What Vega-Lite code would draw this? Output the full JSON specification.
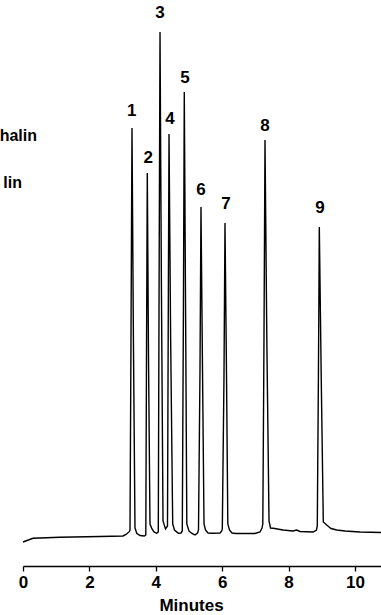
{
  "$schema": "https://vega.github.io/schema/vega-lite/v6.json",
  "width": 358,
  "height": 566,
  "autosize": {"type": "none"},
  "padding": {"left": 23, "top": 0, "right": 0, "bottom": 49},
  "config": {"view": {"stroke": null}, "font": "Liberation Sans"},
  "datasets": {
    "trace": [
      {"t": 0.0, "v": 24},
      {"t": 0.301, "v": 27.7},
      {"t": 1.114, "v": 28.7},
      {"t": 2.319, "v": 29.5},
      {"t": 3.012, "v": 30},
      {"t": 3.102, "v": 31.5},
      {"t": 3.202, "v": 34.3},
      {"t": 3.223, "v": 36},
      {"t": 3.253, "v": 230},
      {"t": 3.283, "v": 438},
      {"t": 3.325, "v": 230},
      {"t": 3.373, "v": 38},
      {"t": 3.425, "v": 32.7},
      {"t": 3.524, "v": 30.5},
      {"t": 3.654, "v": 30},
      {"t": 3.699, "v": 31},
      {"t": 3.72, "v": 210},
      {"t": 3.744, "v": 393},
      {"t": 3.78, "v": 210},
      {"t": 3.825, "v": 42},
      {"t": 3.886, "v": 37},
      {"t": 3.946, "v": 34},
      {"t": 4.027, "v": 32.7},
      {"t": 4.075, "v": 34},
      {"t": 4.099, "v": 280},
      {"t": 4.127, "v": 534},
      {"t": 4.169, "v": 280},
      {"t": 4.217, "v": 45},
      {"t": 4.292, "v": 37},
      {"t": 4.352, "v": 40},
      {"t": 4.373, "v": 230},
      {"t": 4.398, "v": 432},
      {"t": 4.446, "v": 230},
      {"t": 4.509, "v": 42},
      {"t": 4.563, "v": 36},
      {"t": 4.678, "v": 32.7},
      {"t": 4.759, "v": 33},
      {"t": 4.798, "v": 35},
      {"t": 4.831, "v": 250},
      {"t": 4.858, "v": 474},
      {"t": 4.898, "v": 250},
      {"t": 4.934, "v": 42},
      {"t": 5.0, "v": 35},
      {"t": 5.09, "v": 32.5},
      {"t": 5.181, "v": 31},
      {"t": 5.256, "v": 33},
      {"t": 5.286, "v": 36},
      {"t": 5.331, "v": 195},
      {"t": 5.361, "v": 359},
      {"t": 5.407, "v": 195},
      {"t": 5.452, "v": 42},
      {"t": 5.497, "v": 36},
      {"t": 5.572, "v": 33},
      {"t": 5.693, "v": 32.7},
      {"t": 5.934, "v": 33},
      {"t": 5.985, "v": 35},
      {"t": 6.003, "v": 37},
      {"t": 6.054, "v": 190},
      {"t": 6.084, "v": 343},
      {"t": 6.13, "v": 190},
      {"t": 6.169, "v": 42},
      {"t": 6.22, "v": 36},
      {"t": 6.295, "v": 33},
      {"t": 6.416, "v": 32.5},
      {"t": 6.988, "v": 32.5},
      {"t": 7.139, "v": 34},
      {"t": 7.199, "v": 38},
      {"t": 7.223, "v": 42},
      {"t": 7.259, "v": 230},
      {"t": 7.289, "v": 426},
      {"t": 7.343, "v": 230},
      {"t": 7.41, "v": 45},
      {"t": 7.455, "v": 38},
      {"t": 7.539, "v": 37.7},
      {"t": 7.831, "v": 36},
      {"t": 8.133, "v": 35},
      {"t": 8.244, "v": 36},
      {"t": 8.343, "v": 34.5},
      {"t": 8.735, "v": 34},
      {"t": 8.84, "v": 36},
      {"t": 8.864, "v": 40},
      {"t": 8.898, "v": 190},
      {"t": 8.925, "v": 339},
      {"t": 8.982, "v": 190},
      {"t": 9.045, "v": 44},
      {"t": 9.148, "v": 41},
      {"t": 9.277, "v": 37.5},
      {"t": 9.449, "v": 36},
      {"t": 9.699, "v": 35},
      {"t": 10.151, "v": 34},
      {"t": 10.783, "v": 33.5}
    ],
    "peaks": [
      {"t": 3.274, "v": 455, "label": "1"},
      {"t": 3.774, "v": 408.5, "label": "2"},
      {"t": 4.127, "v": 552.7, "label": "3"},
      {"t": 4.428, "v": 447, "label": "4"},
      {"t": 4.88, "v": 488.5, "label": "5"},
      {"t": 5.361, "v": 376.3, "label": "6"},
      {"t": 6.114, "v": 362.3, "label": "7"},
      {"t": 7.289, "v": 440.2, "label": "8"},
      {"t": 8.946, "v": 357.7, "label": "9"}
    ],
    "side": [
      {"t": 0.422, "v": 430, "label": "halin"},
      {"t": -0.03, "v": 383, "label": "lin"}
    ]
  },
  "layer": [
    {
      "data": {"name": "trace"},
      "mark": {"type": "line", "color": "black", "strokeWidth": 1.4, "interpolate": "linear"},
      "encoding": {
        "x": {
          "field": "t",
          "type": "quantitative",
          "scale": {"domain": [0, 10.783], "nice": false, "zero": false},
          "axis": {
            "title": "Minutes",
            "values": [0, 1, 2, 3, 4, 5, 6, 7, 8, 9, 10],
            "labelExpr": "datum.value % 2 === 0 ? datum.label : ''",
            "tickSize": 5,
            "tickWidth": 1.3,
            "tickColor": "black",
            "domainColor": "black",
            "domainWidth": 1.5,
            "labelFont": "Liberation Sans",
            "labelFontSize": 17,
            "labelFontWeight": "bold",
            "labelColor": "black",
            "labelPadding": 3,
            "labelFlush": false,
            "labelOverlap": false,
            "grid": false,
            "titleFont": "Liberation Sans",
            "titleFontSize": 17,
            "titleFontWeight": "bold",
            "titleColor": "black",
            "titleX": 168,
            "titleY": 44,
            "titleBaseline": "alphabetic",
            "titleAlign": "center"
          }
        },
        "y": {
          "field": "v",
          "type": "quantitative",
          "scale": {"domain": [0, 566], "nice": false},
          "axis": null
        }
      }
    },
    {
      "data": {"name": "peaks"},
      "mark": {"type": "text", "fontWeight": "bold", "fontSize": 17, "baseline": "middle", "align": "center", "color": "black", "font": "Liberation Sans"},
      "encoding": {
        "x": {"field": "t", "type": "quantitative"},
        "y": {"field": "v", "type": "quantitative"},
        "text": {"field": "label"}
      }
    },
    {
      "data": {"name": "side"},
      "mark": {"type": "text", "fontWeight": "bold", "fontSize": 16, "baseline": "middle", "align": "right", "color": "black", "font": "Liberation Sans"},
      "encoding": {
        "x": {"field": "t", "type": "quantitative"},
        "y": {"field": "v", "type": "quantitative"},
        "text": {"field": "label"}
      }
    }
  ]
}
